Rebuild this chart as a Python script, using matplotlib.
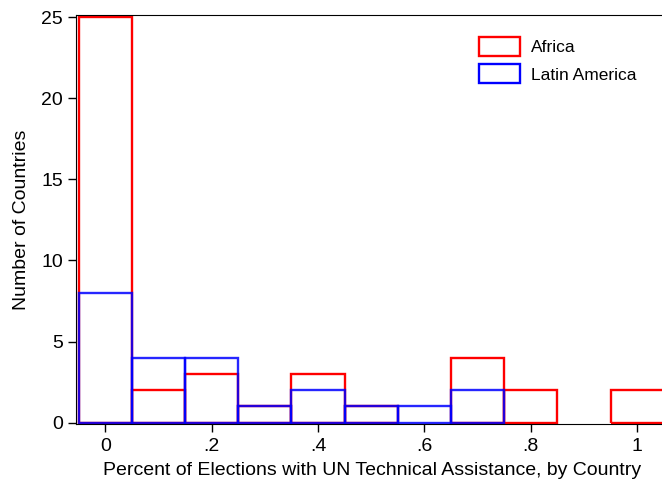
import numpy as np
import matplotlib
matplotlib.use("Agg")
import matplotlib.pyplot as plt
from matplotlib.patches import Patch

plt.rcParams['font.family'] = ['Liberation Sans', 'DejaVu Sans']

# bin centres (width 0.1) and counts per group
bin_centers = [0.0, 0.1, 0.2, 0.3, 0.4, 0.5, 0.6, 0.7, 0.8, 0.9, 1.0]
africa = [25, 2, 3, 1, 3, 1, 0, 4, 2, 0, 2]
latin_america = [8, 4, 4, 1, 2, 1, 1, 2, 0, 0, 0]
x_ticks = [0, 0.2, 0.4, 0.6, 0.8, 1.0]
x_ticklabels = ["0", ".2", ".4", ".6", ".8", "1"]
y_ticks = [0, 5, 10, 15, 20, 25]

fig = plt.figure(figsize=(6.62, 4.79), dpi=100)
ax = fig.add_axes([0.1148, 0.1138, 0.8952, 0.855])

width = 0.1
for c, h in zip(bin_centers, africa):
    if h > 0:
        ax.bar(c, h, width=width, fill=False, edgecolor="#ff0000", linewidth=1.7)
for c, h in zip(bin_centers, latin_america):
    if h > 0:
        ax.bar(c, h, width=width, fill=False, edgecolor="#0000ff", linewidth=1.7, alpha=0.85)

ax.set_xlim(-0.055, 1.059)
ax.set_ylim(-0.12, 25.15)
ax.set_xticks(x_ticks)
ax.set_xticklabels(x_ticklabels)
ax.set_yticks(y_ticks)
ax.tick_params(axis="both", labelsize=14, length=6, width=1)
ax.set_xlabel("Percent of Elections with UN Technical Assistance, by Country", fontsize=14, labelpad=5)
ax.set_ylabel("Number of Countries", fontsize=14, labelpad=8)
ax.spines['right'].set_visible(False)

handles = [Patch(facecolor="white", edgecolor="#ff0000", linewidth=1.7, label="Africa"),
           Patch(facecolor="white", edgecolor="#0000ff", linewidth=1.7, label="Latin America")]
ax.legend(handles=handles, loc="upper left", bbox_to_anchor=(0.653, 0.985), frameon=False,
          fontsize=12.5, handlelength=2.4, handleheight=1.3, labelspacing=0.5, handletextpad=0.6)

fig.savefig("out.png", dpi=100)
